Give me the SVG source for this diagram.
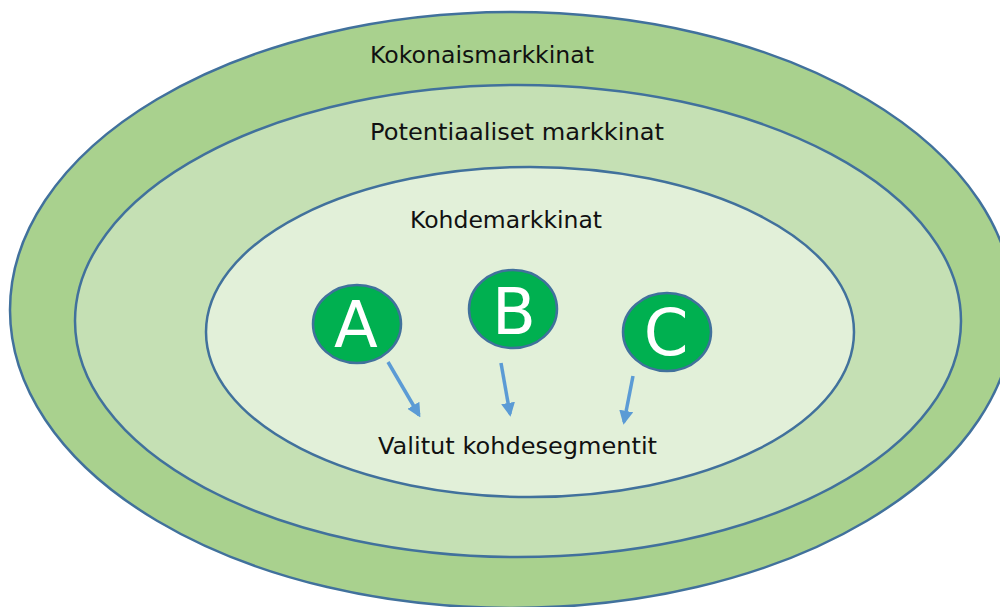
<svg xmlns="http://www.w3.org/2000/svg" width="1000" height="607" viewBox="0 0 1000 607">
<defs>
<style>
.ring{stroke:#41719C;stroke-width:2.5}
.lbl{font-family:"DejaVu Sans","Liberation Sans",sans-serif;font-size:23px;fill:#111}
.seg{fill:#00B050;stroke:#41719C;stroke-width:2.5}
.let{font-family:"DejaVu Sans","Liberation Sans",sans-serif;font-size:64px;fill:#fff;text-anchor:middle}
.arr{stroke:#5B9BD5;stroke-width:3.5;fill:none;marker-end:url(#ah)}
</style>
<marker id="ah" viewBox="0 0 10 10" refX="8" refY="5" markerWidth="4" markerHeight="4" orient="auto" markerUnits="strokeWidth">
<path d="M0,0 L10,5 L0,10 z" fill="#5B9BD5"/>
</marker>
</defs>
<rect width="1000" height="607" fill="#fff"/>
<g id="kokonaismarkkinat">
<ellipse class="ring" cx="512" cy="310" rx="502" ry="298" fill="#A9D18E"/>
<text class="lbl" x="370" y="63" textLength="224" lengthAdjust="spacingAndGlyphs">Kokonaismarkkinat</text>
</g>
<g id="potentiaaliset">
<ellipse class="ring" cx="518" cy="321" rx="443" ry="236" fill="#C5E0B4"/>
<text class="lbl" x="370" y="140" textLength="294" lengthAdjust="spacingAndGlyphs">Potentiaaliset markkinat</text>
</g>
<g id="kohdemarkkinat">
<ellipse class="ring" cx="530" cy="332" rx="324" ry="165" fill="#E2F0D9"/>
<text class="lbl" x="410" y="228" textLength="192" lengthAdjust="spacingAndGlyphs">Kohdemarkkinat</text>
<text class="lbl" x="378" y="454" textLength="279" lengthAdjust="spacingAndGlyphs">Valitut kohdesegmentit</text>
</g>
<g id="segA">
<ellipse class="seg" cx="357" cy="324" rx="44" ry="39"/>
<text class="let" x="356" y="347">A</text>
</g>
<g id="segB">
<ellipse class="seg" cx="513" cy="309" rx="44" ry="39"/>
<text class="let" x="514" y="334">B</text>
</g>
<g id="segC">
<ellipse class="seg" cx="667" cy="332" rx="44" ry="39"/>
<text class="let" x="666" y="355">C</text>
</g>
<g id="connectors">
<line class="arr" x1="388" y1="362" x2="419" y2="415"/>
<line class="arr" x1="501" y1="363" x2="510" y2="414"/>
<line class="arr" x1="633" y1="376" x2="624" y2="422"/>
</g>
</svg>
